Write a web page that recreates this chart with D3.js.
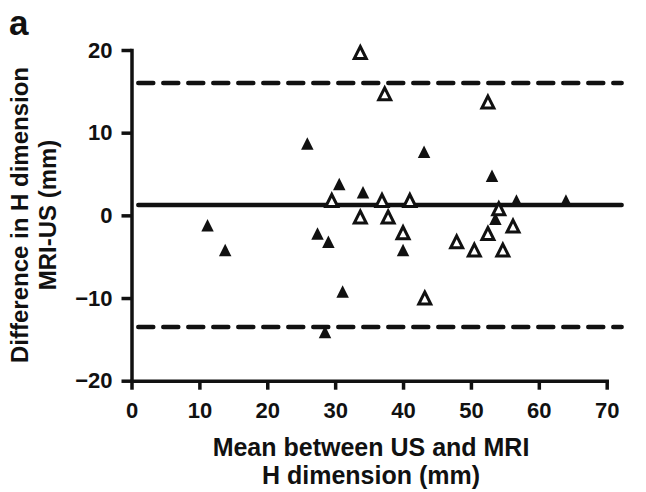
<!DOCTYPE html>
<html>
<head>
<meta charset="utf-8">
<script src="https://cdn.jsdelivr.net/npm/d3@7/dist/d3.min.js"></script>
<style>
  body { margin: 0; background: #fff; }
  svg { display: block; font-family: "Liberation Sans", Arial, sans-serif; font-weight: bold; }
</style>
</head>
<body>
<svg id="chart" width="646" height="492"></svg>
<script>
// Bland-Altman, H dimension: MRI vs US
// filled triangles
const filledMean = [11.2, 13.8, 25.9, 27.4, 28.5, 29.0, 30.6, 31.1, 34.1, 40.0, 43.1, 53.1, 53.6, 56.7, 64.0];
const filledDiff = [-1.2, -4.2, 8.7, -2.2, -14.1, -3.2, 3.8, -9.2, 2.8, -4.2, 7.7, 4.8, -0.4, 1.8, 1.8];
// open triangles
const openMean = [29.5, 33.7, 33.7, 36.9, 37.3, 37.8, 40.0, 41.0, 43.2, 47.9, 50.5, 52.5, 52.5, 54.1, 54.7, 56.2];
const openDiff = [1.8, 19.7, -0.2, 1.8, 14.7, -0.2, -2.1, 1.8, -10.0, -3.2, -4.2, 13.7, -2.2, 0.8, -4.2, -1.3];

const xTicks = [0, 10, 20, 30, 40, 50, 60, 70];
const yTicks = [-20, -10, 0, 10, 20];

const meanDiff = 1.25;
const upperLoA = 16.0;
const lowerLoA = -13.5;
const lineSpan = [1, 72.2];

const svg = d3.select("#chart");

const x = d3.scaleLinear().domain([0, 70]).range([131.5, 606.7]);
const y = d3.scaleLinear().domain([-20, 20]).range([380.7, 50]);

// --- axes ---
const gx = svg.append("g")
    .attr("transform", `translate(0,${y(-20)})`)
    .call(d3.axisBottom(x).tickValues(xTicks).tickSize(9).tickSizeOuter(0).tickFormat(d3.format("d")));
gx.selectAll("text").attr("y", 21.4).attr("dy", "0.71em");

const gy = svg.append("g")
    .attr("transform", `translate(${x(0)},0)`)
    .call(d3.axisLeft(y).tickValues(yTicks).tickSize(10).tickSizeOuter(0).tickPadding(9).tickFormat(d3.format("d")));

[gx, gy].forEach(g => {
    g.select(".domain").attr("stroke", "#111").attr("stroke-width", 3.5).attr("stroke-linecap", "square");
    g.selectAll(".tick line").attr("stroke", "#111").attr("stroke-width", 3.5);
    g.selectAll(".tick text").attr("fill", "#111").style("font-size", "22px")
        .style("font-family", '"Liberation Sans", Arial, sans-serif').style("font-weight", "bold");
});

// --- reference lines ---
const refLines = [
    { v: upperLoA, dash: "15,10" },
    { v: meanDiff, dash: null },
    { v: lowerLoA, dash: "15,10" }
];
svg.append("g").selectAll("line").data(refLines).join("line")
    .attr("x1", x(lineSpan[0])).attr("x2", x(lineSpan[1]))
    .attr("y1", d => y(d.v)).attr("y2", d => y(d.v))
    .attr("stroke", "#111")
    .attr("stroke-width", 4.5)
    .attr("stroke-linecap", "round")
    .attr("stroke-dasharray", d => d.dash);

// --- markers ---
// triangle centred on its bounding box
const tri = {
    draw(ctx, size) {
        const w = Math.sqrt(size), h = w;
        ctx.moveTo(0, -h / 2);
        ctx.lineTo(w / 2, h / 2);
        ctx.lineTo(-w / 2, h / 2);
        ctx.closePath();
    }
};

const filled = filledMean.map((m, i) => ({ m, d: filledDiff[i] }));
const open = openMean.map((m, i) => ({ m, d: openDiff[i] }));

svg.append("g").selectAll("path").data(filled).join("path")
    .attr("d", d3.symbol(tri, 12.5 * 12.5))
    .attr("transform", d => `translate(${x(d.m)},${y(d.d)})`)
    .attr("fill", "#111");

svg.append("g").selectAll("path").data(open).join("path")
    .attr("d", d3.symbol(tri, 12 * 12))
    .attr("transform", d => `translate(${x(d.m)},${y(d.d)})`)
    .attr("fill", "#fff")
    .attr("stroke", "#111")
    .attr("stroke-width", 3)
    .attr("stroke-linejoin", "miter");

// --- titles ---
svg.append("text")
    .attr("x", 9).attr("y", 35)
    .style("font-size", "35px")
    .attr("fill", "#111")
    .text("a");

const xt = svg.append("text")
    .attr("text-anchor", "middle")
    .attr("fill", "#111")
    .style("font-size", "25px");
xt.append("tspan").attr("x", 371).attr("y", 456).text("Mean between US and MRI");
xt.append("tspan").attr("x", 371).attr("y", 484).text("H dimension (mm)");

const yt = svg.append("text")
    .attr("text-anchor", "middle")
    .attr("fill", "#111")
    .attr("transform", "translate(0,215) rotate(-90)")
    .style("font-size", "24px");
yt.append("tspan").attr("x", 0).attr("y", 28).text("Difference in H dimension");
yt.append("tspan").attr("x", 0).attr("y", 56).text("MRI-US (mm)");
</script>
</body>
</html>
